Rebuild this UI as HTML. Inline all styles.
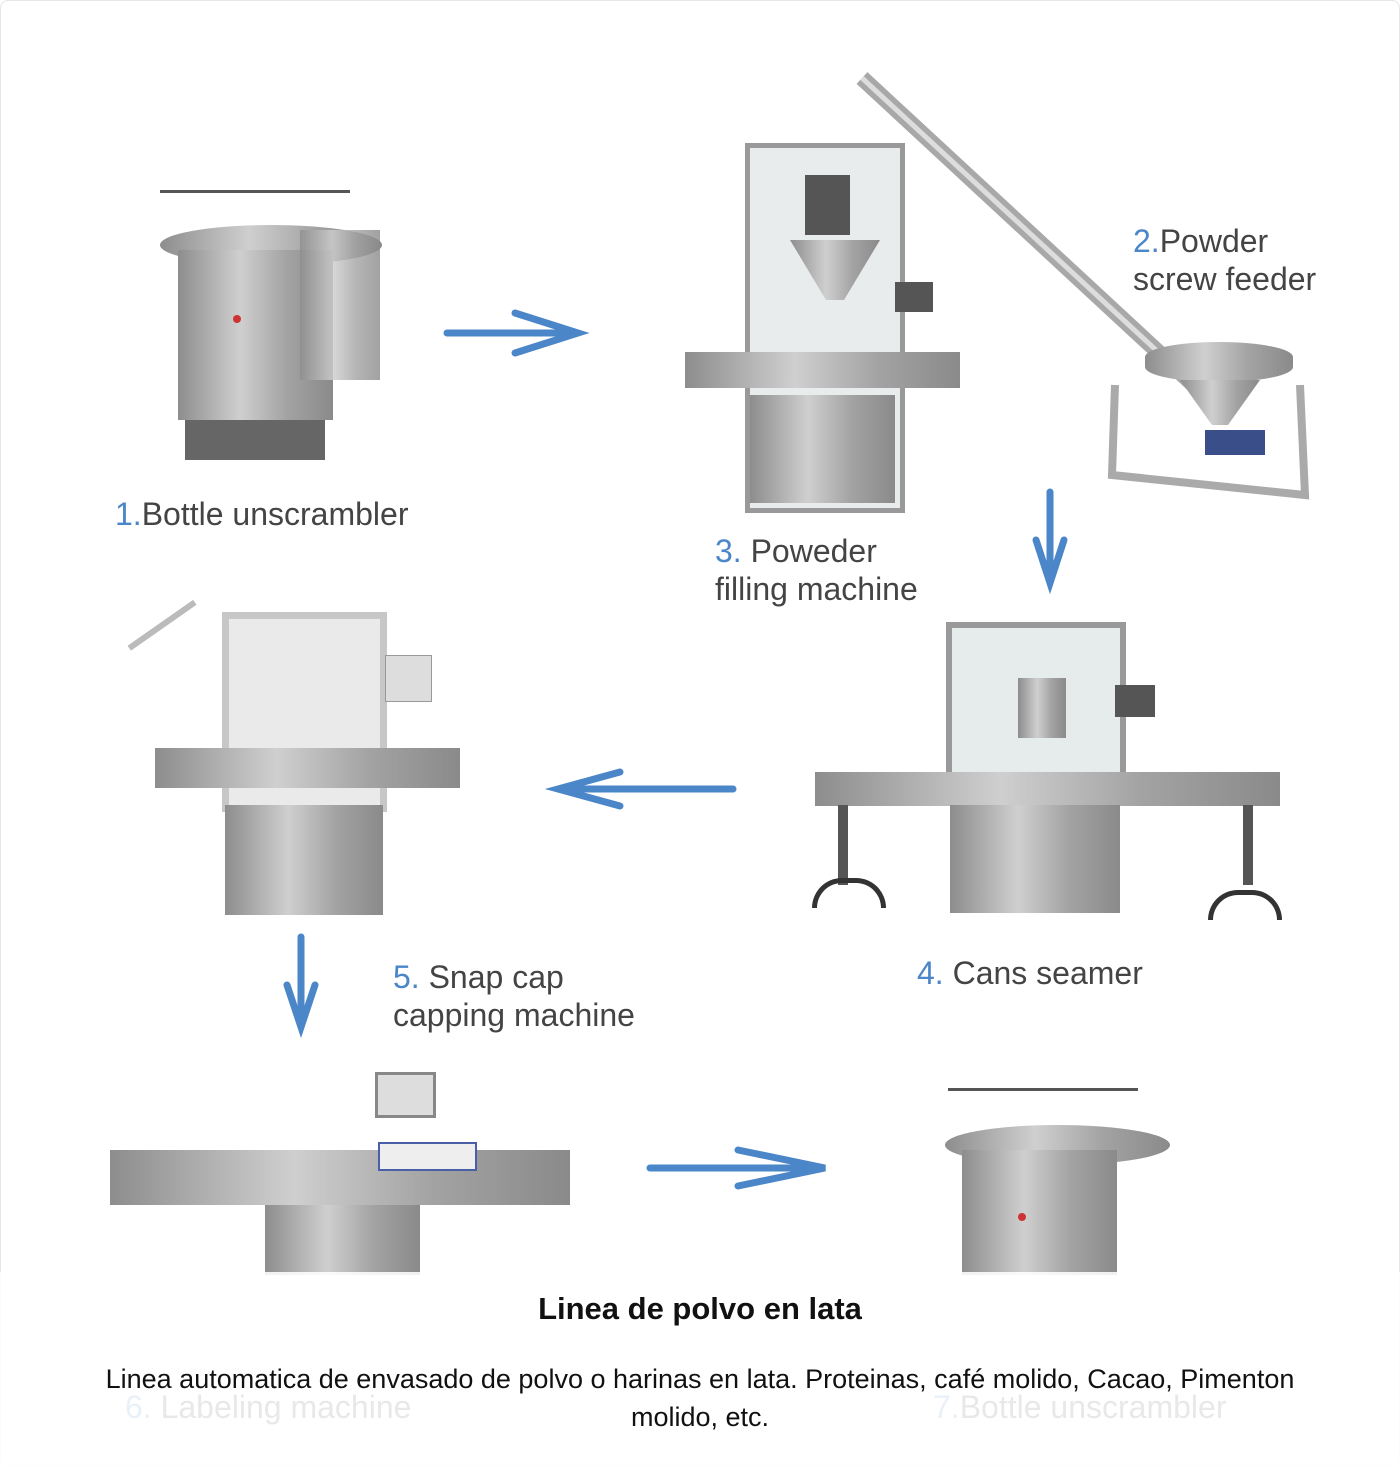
<!DOCTYPE html>
<html><head><meta charset="utf-8"><style>
html,body{margin:0;padding:0;background:#fff}
body{width:1400px;height:1466px;position:relative;overflow:hidden;font-family:"Liberation Sans",sans-serif}
.a{position:absolute}
.lbl{position:absolute;font-size:32px;color:#444;line-height:38px}
.lbl b{font-weight:normal;color:#4a86c8}
.g{position:absolute;background:linear-gradient(90deg,#8d8d8d,#cfcfcf 40%,#a3a3a3 70%,#8a8a8a)}
.d{position:absolute;background:#555}
</style></head><body>
<div class="a" style="left:0;top:0;width:1398px;height:1464px;border:1px solid #e6e6e6;border-radius:8px"></div>

<!-- Machine 1 -->
<div class="d" style="left:160px;top:190px;width:190px;height:3px"></div>
<div class="g" style="left:160px;top:225px;width:222px;height:40px;border-radius:50%/20px"></div>
<div class="g" style="left:178px;top:250px;width:155px;height:170px"></div>
<div class="g" style="left:300px;top:230px;width:80px;height:150px;opacity:.8"></div>
<div class="d" style="left:185px;top:420px;width:140px;height:40px;background:#666"></div>
<div class="a" style="left:233px;top:315px;width:8px;height:8px;background:#c33;border-radius:50%"></div>

<!-- Machine 3 filling -->
<div class="a" style="left:745px;top:143px;width:160px;height:370px;border:5px solid #999;box-sizing:border-box;background:#e8eced"></div>
<div class="g" style="left:685px;top:352px;width:275px;height:36px"></div>
<div class="g" style="left:750px;top:395px;width:145px;height:108px"></div>
<div class="d" style="left:805px;top:175px;width:45px;height:60px"></div>
<div class="g" style="left:790px;top:240px;width:90px;height:60px;clip-path:polygon(0 0,100% 0,60% 100%,40% 100%)"></div>
<div class="d" style="left:895px;top:282px;width:38px;height:30px"></div>
<!-- screw feeder -->
<svg class="a" style="left:0;top:0" width="1400" height="1466">
<line x1="862" y1="78" x2="1210" y2="400" stroke="#a8a8a8" stroke-width="16"/>
<line x1="862" y1="78" x2="1210" y2="400" stroke="#ddd" stroke-width="5"/>
<polyline points="1115,385 1112,475 1305,495 1300,385" fill="none" stroke="#aaa" stroke-width="8"/>
<g stroke="#4a86c8" stroke-width="7" fill="none" stroke-linecap="round">
<line x1="447" y1="333" x2="575" y2="333"/><polyline points="515,313 578,333 515,353"/>
<line x1="1050" y1="492" x2="1050" y2="580"/><polyline points="1036,540 1050,583 1064,540"/>
<line x1="733" y1="789" x2="562" y2="789"/><polyline points="620,772 558,789 620,806"/>
<line x1="301" y1="937" x2="301" y2="1024"/><polyline points="287,985 301,1027 315,985"/>
<line x1="650" y1="1168" x2="822" y2="1168"/><polyline points="738,1150 825,1168 738,1186"/>
</g></svg>
<div class="g" style="left:1145px;top:342px;width:148px;height:40px;border-radius:50%/15px"></div>
<div class="g" style="left:1180px;top:380px;width:80px;height:45px;clip-path:polygon(0 0,100% 0,60% 100%,40% 100%)"></div>
<div class="d" style="left:1205px;top:430px;width:60px;height:25px;background:#3a4f8a"></div>

<!-- Machine 4 -->
<div class="a" style="left:946px;top:622px;width:180px;height:180px;border:6px solid #999;box-sizing:border-box;background:#e6ebeb"></div>
<div class="g" style="left:815px;top:772px;width:465px;height:34px"></div>
<div class="g" style="left:950px;top:805px;width:170px;height:108px"></div>
<div class="d" style="left:1115px;top:685px;width:40px;height:32px"></div>
<div class="g" style="left:1018px;top:678px;width:48px;height:60px"></div>
<div class="d" style="left:838px;top:805px;width:10px;height:80px"></div>
<div class="d" style="left:1243px;top:805px;width:10px;height:80px"></div>
<div class="a" style="left:812px;top:878px;width:64px;height:25px;border:5px solid #333;border-bottom:none;border-radius:30px 30px 0 0"></div>
<div class="a" style="left:1208px;top:890px;width:64px;height:25px;border:5px solid #333;border-bottom:none;border-radius:30px 30px 0 0"></div>

<!-- Machine 5 -->
<div class="a" style="left:222px;top:612px;width:165px;height:200px;border:7px solid #c7c7c7;box-sizing:border-box;background:#eaeaea"></div>
<div class="g" style="left:155px;top:748px;width:305px;height:40px"></div>
<div class="g" style="left:225px;top:805px;width:158px;height:110px"></div>
<div class="a" style="left:385px;top:655px;width:45px;height:45px;background:#ddd;border:1px solid #999"></div>
<div class="a" style="left:145px;top:615px;width:80px;height:80px;border-top:6px solid #bbb;transform:rotate(-35deg)"></div>

<!-- Labeling -->
<div class="g" style="left:110px;top:1150px;width:460px;height:55px"></div>
<div class="a" style="left:375px;top:1072px;width:55px;height:40px;background:#ddd;border:3px solid #888"></div>
<div class="g" style="left:265px;top:1205px;width:155px;height:70px"></div>
<div class="a" style="left:378px;top:1142px;width:95px;height:25px;background:#eee;border:2px solid #4a5fa8"></div>

<!-- Machine 7 -->
<div class="d" style="left:948px;top:1088px;width:190px;height:3px"></div>
<div class="g" style="left:945px;top:1125px;width:225px;height:40px;border-radius:50%/20px"></div>
<div class="g" style="left:962px;top:1150px;width:155px;height:125px"></div>
<div class="a" style="left:1018px;top:1213px;width:8px;height:8px;background:#c33;border-radius:50%"></div>

<!-- Labels -->
<div class="lbl" style="left:115px;top:495px"><b>1.</b>Bottle unscrambler</div>
<div class="lbl" style="left:1133px;top:222px"><b>2.</b>Powder<br>screw feeder</div>
<div class="lbl" style="left:715px;top:532px"><b>3.</b> Poweder<br>filling machine</div>
<div class="lbl" style="left:917px;top:954px"><b>4.</b> Cans seamer</div>
<div class="lbl" style="left:393px;top:958px"><b>5.</b> Snap cap<br>capping machine</div>
<div class="lbl" style="left:125px;top:1388px"><b>6.</b> Labeling machine</div>
<div class="lbl" style="left:933px;top:1388px"><b>7.</b>Bottle unscrambler</div>

<!-- overlay -->
<div class="a" style="left:0;top:1272px;width:1400px;height:194px;background:rgba(255,255,255,.88)"></div>
<div class="a" style="left:0;top:1291px;width:1400px;text-align:center;font-size:31px;font-weight:bold;color:#111">Linea de polvo en lata</div>
<div class="a" style="left:85px;top:1360px;width:1230px;text-align:center;font-size:27px;line-height:38px;color:#111">Linea automatica de envasado de polvo o harinas en lata. Proteinas, café molido, Cacao, Pimenton molido, etc.</div>
</body></html>
